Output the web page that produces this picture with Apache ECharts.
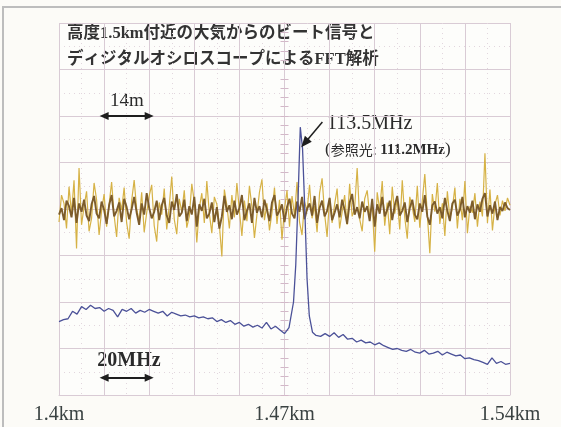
<!DOCTYPE html>
<html>
<head>
<meta charset="utf-8">
<script src="https://cdn.jsdelivr.net/npm/echarts@6/dist/echarts.min.js"></script>
<style>
html,body{margin:0;padding:0;background:#fcfbf7;}
#c{width:561px;height:427px;}
</style>
</head>
<body>
<div id="c"></div>
<script>
// Tick labels on the horizontal axis (in screen divisions, centre = 0)
const xTickDivs = [-5, 0, 5];
const xTickLabels = ['1.4km', '1.47km', '1.54km'];

// Beat signal (yellow trace), 181 samples across the screen, in divisions (0..8)
const noiseYellow = [
3.72,4.30,4.12,3.58,4.48,3.90,4.62,3.15,4.88,3.66,
4.05,4.38,3.52,3.80,4.56,4.20,3.44,3.96,4.32,3.62,
4.10,4.58,3.86,3.40,4.24,3.98,4.46,3.70,3.36,4.18,
4.62,4.00,3.74,4.36,3.50,3.92,4.28,4.52,3.64,3.30,
4.14,3.88,4.44,3.56,4.06,4.70,3.78,3.46,4.22,3.94,
4.40,3.60,3.84,4.54,4.16,3.28,4.02,4.34,3.70,4.60,
3.90,3.48,4.26,4.10,3.66,2.98,4.42,4.08,3.58,4.30,
3.82,4.56,3.96,3.42,4.18,3.74,4.50,4.04,3.38,3.88,
4.36,4.64,3.76,4.12,3.54,3.92,4.46,3.68,4.20,3.34,
4.00,4.40,3.62,4.28,3.86,4.58,3.72,3.44,4.16,3.96,
4.52,3.80,4.06,3.50,4.34,4.66,3.90,3.40,4.24,3.70,
4.10,4.44,3.58,3.94,4.30,3.66,4.54,3.84,4.02,4.88,
3.78,3.52,4.22,4.40,3.86,4.08,3.08,4.36,3.98,4.60,
3.64,4.14,3.46,4.48,3.90,4.20,3.56,4.62,3.82,3.36,
4.26,4.04,3.72,4.50,3.60,4.18,4.75,3.88,3.05,4.32,
3.94,4.56,3.68,4.12,3.42,4.38,3.80,4.02,4.46,3.58,
4.22,3.76,4.60,3.48,4.06,3.92,4.34,3.62,4.16,3.84,
5.20,3.70,4.42,3.54,4.10,4.30,3.86,4.18,3.96,4.24,4.08
];

// Beat signal (brown trace), 181 samples
const noiseBrown = [
3.88,4.02,3.76,4.18,4.06,3.82,4.24,3.70,4.12,3.94,
4.20,3.86,3.74,4.10,4.28,3.90,3.80,4.16,3.98,3.68,
4.08,4.30,3.84,3.96,4.14,3.72,4.22,4.04,3.78,4.00,
4.26,3.92,3.66,4.12,3.88,4.34,4.02,3.80,3.94,4.18,
3.76,4.08,4.24,3.86,3.70,4.16,3.98,4.32,3.84,3.92,
4.20,3.74,4.06,3.88,4.26,3.62,4.10,3.96,4.22,3.80,
3.90,4.14,3.72,4.04,3.58,3.84,4.28,3.94,4.08,3.78,
4.18,3.88,4.02,4.30,3.76,3.96,4.12,3.70,4.24,3.92,
4.06,3.82,4.20,3.98,3.74,4.14,4.30,3.86,3.96,4.10,
3.72,4.04,4.22,3.90,3.80,4.16,3.94,4.26,3.78,4.00,
4.12,3.86,4.28,3.70,4.02,4.18,3.84,3.96,4.24,3.76,
3.92,4.10,3.82,4.20,3.98,3.68,4.14,4.32,3.88,4.04,
3.80,4.16,3.94,4.06,3.74,4.22,3.62,4.10,3.90,4.26,
3.84,3.98,4.18,3.76,4.08,4.28,3.86,3.96,4.14,3.72,
4.02,4.20,3.88,3.78,4.12,3.94,4.30,3.84,3.66,4.08,
4.16,3.90,4.04,3.80,4.24,3.96,3.74,4.12,4.20,3.86,
3.98,4.26,3.82,4.06,3.92,4.18,3.78,4.10,3.94,4.22,
4.34,3.84,4.08,3.90,4.16,3.76,4.04,3.96,4.14,4.02,3.98
];

// FFT spectrum (blue trace): x in divisions, y in divisions
const fftX = [
-5.0,-4.9,-4.8,-4.7,-4.6,-4.5,-4.4,-4.3,-4.2,-4.1,
-4.0,-3.9,-3.8,-3.7,-3.6,-3.5,-3.4,-3.3,-3.2,-3.1,
-3.0,-2.9,-2.8,-2.7,-2.6,-2.5,-2.4,-2.3,-2.2,-2.1,
-2.0,-1.9,-1.8,-1.7,-1.6,-1.5,-1.4,-1.3,-1.2,-1.1,
-1.0,-0.9,-0.8,-0.7,-0.6,-0.5,-0.4,-0.3,-0.2,-0.1,
0.0,0.1,0.2,0.25,0.3,0.35,0.4,0.45,0.5,0.55,0.62,
0.7,0.8,0.9,1.0,1.1,1.2,1.3,1.4,1.5,1.6,
1.7,1.8,1.9,2.0,2.1,2.2,2.3,2.4,2.5,2.6,
2.7,2.8,2.9,3.0,3.1,3.2,3.3,3.4,3.5,3.6,
3.7,3.8,3.9,4.0,4.1,4.2,4.3,4.4,4.5,4.6,
4.7,4.8,4.9,5.0
];
const fftY = [
1.58,1.62,1.64,1.80,1.74,1.90,1.84,1.93,1.86,1.88,
1.80,1.86,1.82,1.68,1.84,1.80,1.86,1.76,1.82,1.78,
1.84,1.80,1.76,1.80,1.70,1.78,1.74,1.70,1.72,1.68,
1.70,1.66,1.68,1.64,1.66,1.58,1.62,1.56,1.60,1.52,
1.56,1.48,1.52,1.46,1.50,1.44,1.56,1.42,1.48,1.40,
1.32,1.45,2.00,2.80,4.20,5.76,5.30,4.00,2.50,1.70,1.35,
1.28,1.26,1.32,1.26,1.34,1.24,1.30,1.20,1.22,1.14,
1.18,1.12,1.14,1.08,1.12,1.06,1.02,0.98,1.00,0.96,
0.94,0.98,0.92,0.90,0.96,0.88,0.90,0.94,0.86,0.92,
0.88,0.84,0.86,0.78,0.80,0.76,0.74,0.70,0.66,0.80,
0.68,0.72,0.66,0.68
];

const gridColor = '#d9cbd5';
const dotColor = '#e2d6de';
const serif = "'Liberation Serif', 'DejaVu Serif', serif";
const jp = "'Liberation Serif', 'Noto Sans CJK JP', sans-serif";

const yStep = 10 / (noiseYellow.length - 1);
const bStep = 10 / (noiseBrown.length - 1);
const yellowData = noiseYellow.map((v, i) => [-5 + i * yStep, v]);
const brownData = noiseBrown.map((v, i) => [-5 + i * bStep, v]);
const fftData = fftX.map((x, i) => [x, fftY[i]]);

const chart = echarts.init(document.getElementById('c'), null, {renderer: 'canvas'});

function tickAxis(inside) {
  return {
    type: 'value', min: 0, max: 8, interval: 1, position: 'left',
    axisLabel: {show: false},
    splitLine: {show: false},
    axisLine: {show: true, onZero: true, onZeroAxisIndex: 0, lineStyle: {color: gridColor, width: 1}},
    axisTick: {show: true, inside: inside, length: 4, lineStyle: {color: '#d3b8c8', width: 1}},
    minorTick: {show: true, splitNumber: 5, length: 4, lineStyle: {color: '#d3b8c8', width: 1}}
  };
}

chart.setOption({
  backgroundColor: '#fcfbf7',
  animation: false,
  grid: {left: 59, right: 51, top: 23, bottom: 32, show: true, backgroundColor: '#fdfdfb', borderWidth: 0},
  xAxis: {
    type: 'value', min: -5, max: 5, interval: 1,
    axisLine: {show: true, lineStyle: {color: gridColor, width: 1}},
    axisTick: {show: false},
    splitLine: {show: true, lineStyle: {color: gridColor, width: 1}},
    minorTick: {show: false, splitNumber: 2},
    minorSplitLine: {show: true, lineStyle: {color: dotColor, type: [1, 4], width: 1}},
    axisLabel: {
      show: true, margin: 10, fontSize: 20, fontFamily: serif, color: '#3a4242',
      showMinLabel: true, showMaxLabel: true,
      formatter: function (v) {
        const r = Math.round(v);
        const k = xTickDivs.indexOf(r);
        return (k >= 0 && Math.abs(v - r) < 1e-6) ? xTickLabels[k] : '';
      }
    }
  },
  yAxis: [
    {
      type: 'value', min: 0, max: 8, interval: 1,
      axisLabel: {show: false},
      axisLine: {show: false, onZero: false},
      axisTick: {show: false},
      splitLine: {show: true, lineStyle: {color: gridColor, width: 1}},
      minorTick: {show: false, splitNumber: 2},
      minorSplitLine: {show: true, lineStyle: {color: dotColor, type: [1, 4], width: 1}}
    },
    tickAxis(false),
    tickAxis(true)
  ],
  series: [
    {
      type: 'line', data: yellowData, showSymbol: false, symbol: 'none',
      lineStyle: {color: '#d6b246', width: 1.2}, z: 2, silent: true
    },
    {
      type: 'line', data: brownData, showSymbol: false, symbol: 'none',
      lineStyle: {color: '#7c5c2b', width: 1.9}, z: 3, silent: true
    },
    {
      type: 'line', data: fftData, showSymbol: false, symbol: 'none',
      lineStyle: {color: '#4b5198', width: 1.3}, z: 4, silent: true,
      markLine: {
        silent: true, animation: false,
        label: {show: false},
        lineStyle: {color: '#1e1e1e', width: 2, type: 'solid'},
        data: [
          [{coord: [-4, 6], symbol: 'triangle', symbolSize: [8, 9]}, {coord: [-3, 6], symbol: 'triangle', symbolSize: [8, 9]}],
          [{coord: [-4, 0.37], symbol: 'triangle', symbolSize: [8, 9]}, {coord: [-3, 0.37], symbol: 'triangle', symbolSize: [8, 9]}],
          [{coord: [0.84, 5.87], symbol: 'none', lineStyle: {width: 1.5}}, {coord: [0.45, 5.42], symbol: 'triangle', symbolSize: [9, 11], lineStyle: {width: 1.5}}]
        ]
      }
    }
  ],
  graphic: [
    {type: 'polyline', silent: true, shape: {points: [[3, 427], [3, 7], [561, 7]]}, style: {stroke: '#bdbdbd', lineWidth: 2, fill: null}},
    {type: 'text', left: 67, top: 25, style: {text: '高度1.5km付近の大気からのビート信号と', font: 'bold 16.5px ' + jp, fill: '#333'}},
    {type: 'text', left: 67, top: 51, style: {text: 'ディジタルオシロスコープによるFFT解析', font: 'bold 16.5px ' + jp, fill: '#333'}},
    {type: 'text', x: 127, y: 101, style: {text: '14m', font: '19px ' + serif, fill: '#2a2a2a', align: 'center', verticalAlign: 'middle'}},
    {type: 'text', x: 129, y: 361, style: {text: '20MHz', font: 'bold 20px ' + serif, fill: '#2a2a2a', align: 'center', verticalAlign: 'middle'}},
    {type: 'text', x: 327, y: 124, style: {text: '113.5MHz', font: '20px ' + serif, fill: '#2a2a2a', align: 'left', verticalAlign: 'middle'}},
    {type: 'text', x: 325, y: 150, style: {
      text: '{p|(}{j|参照光:}{b| 111.2MHz}{p|)}', align: 'left', verticalAlign: 'middle',
      rich: {
        p: {font: '17px ' + serif, fill: '#2a2a2a'},
        j: {font: '14px "Noto Sans CJK JP"', fill: '#2a2a2a'},
        b: {font: 'bold 15px ' + serif, fill: '#2a2a2a'}
      }
    }}
  ]
});
</script>
</body>
</html>
